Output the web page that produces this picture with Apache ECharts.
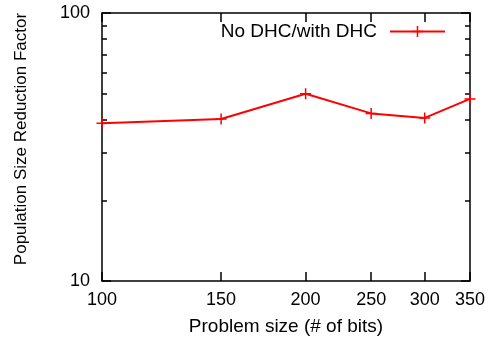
<!DOCTYPE html>
<html><head><meta charset="utf-8">
<script src="https://cdn.jsdelivr.net/npm/echarts@6/dist/echarts.min.js"></script>
<style>html,body{margin:0;padding:0;background:#fff}#c{width:494px;height:347px}</style>
</head><body><div id="c"></div>
<script>
const sizes = [100, 150, 200, 250, 300, 350];
const reduction = [38.8, 40.2, 50.0, 42.2, 40.6, 47.8];
const xTicks = [100, 150, 200, 250, 300, 350];
const yMajor = [10, 100];
const yMinor = [20, 30, 40, 50, 60, 70, 80, 90];
const seriesName = 'No DHC/with DHC';

const FONT = 'Liberation Sans, Arial, sans-serif';
const plus = 'path://M4.75,0H6.25V4.75H11V6.25H6.25V11H4.75V6.25H0V4.75H4.75Z';
const chart = echarts.init(document.getElementById('c'), null, {renderer: 'canvas'});
const hidden = {show: false};
function yAx(pos, vals, len, labels) {
  return {
    type: 'log', logBase: 10, min: 10, max: 100, position: pos,
    axisLine: hidden, splitLine: hidden,
    axisTick: {show: true, inside: true, length: len, customValues: vals, lineStyle: {color: '#000', width: 1.5}},
    axisLabel: labels ? {show: true, customValues: vals, margin: 12, fontSize: 18, color: '#000', fontFamily: FONT} : hidden
  };
}
chart.setOption({
  animation: false,
  grid: {left: 102, right: 24, top: 13, bottom: 66, outerBoundsMode: 'none', containLabel: false,
         show: true, borderColor: '#000', borderWidth: 1.5, backgroundColor: 'transparent'},
  legend: {
    show: true, right: 48, top: 22, padding: 0, align: 'right', itemWidth: 55, itemHeight: 14,
    textStyle: {fontSize: 19, color: '#000', fontFamily: FONT, padding: [0, 8, 0, 0]},
    data: [seriesName]
  },
  xAxis: [
    {type: 'log', logBase: 10, min: 100, max: 350, position: 'bottom',
     name: 'Problem size (# of bits)', nameLocation: 'middle', nameGap: 36,
     nameTextStyle: {fontSize: 19, color: '#000', fontFamily: FONT},
     axisLine: hidden, splitLine: hidden,
     axisTick: {show: true, inside: true, length: 9, customValues: xTicks, lineStyle: {color: '#000', width: 1.5}},
     axisLabel: {show: true, customValues: xTicks, margin: 10, fontSize: 18, color: '#000', fontFamily: FONT}},
    {type: 'log', logBase: 10, min: 100, max: 350, position: 'top',
     axisLine: hidden, splitLine: hidden,
     axisTick: {show: true, inside: true, length: 9, customValues: xTicks, lineStyle: {color: '#000', width: 1.5}},
     axisLabel: hidden}
  ],
  yAxis: [
    Object.assign(yAx('left', yMajor, 9, true), {
      name: 'Population Size Reduction Factor', nameLocation: 'middle', nameGap: 72,
      nameTextStyle: {fontSize: 17, color: '#000', fontFamily: FONT, padding: [0, 0, 0, 16]}
    }),
    yAx('left', yMinor, 5, false),
    yAx('right', yMajor, 9, false),
    yAx('right', yMinor, 5, false)
  ],
  series: [{
    name: seriesName, type: 'line', xAxisIndex: 0, yAxisIndex: 0,
    data: sizes.map((s, i) => [s, reduction[i]]),
    symbol: plus, symbolSize: 11, showSymbol: true,
    lineStyle: {color: '#ff0000', width: 2},
    itemStyle: {color: '#ff0000'},
    clip: false
  }]
});
</script></body></html>
